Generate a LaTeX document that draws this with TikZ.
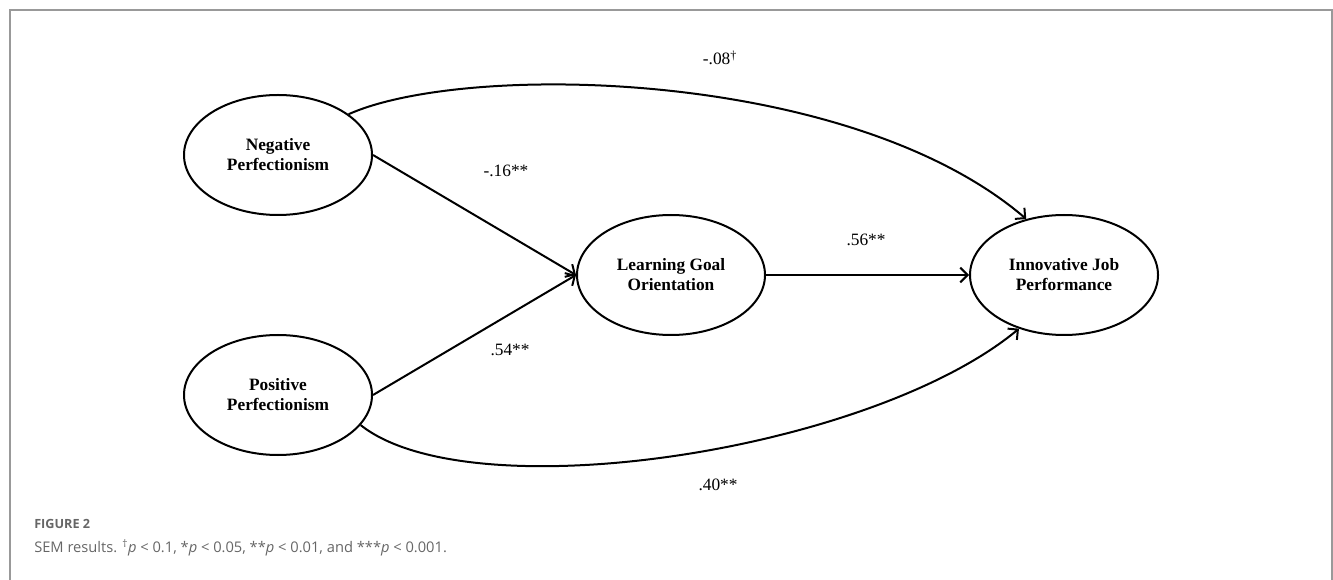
\documentclass[tikz,border=0pt]{standalone}
\usepackage{fontspec}
\setmainfont{Liberation Serif}
\newfontfamily\capfont{Open Sans}
\usetikzlibrary{arrows.meta,shapes.geometric}
\tikzset{
  latent/.style={ellipse, draw, line width=1.5pt, minimum width=141pt, minimum height=90pt, inner sep=0pt, align=center, font=\fontsize{13}{15}\selectfont\bfseries},
  arr/.style={line width=1.5pt, -{Straight Barb[length=5.5pt,width=11pt,line width=1.5pt]}},
  coef/.style={font=\fontsize{13}{15}\selectfont, inner sep=1pt},
  frame/.style={draw=black!40, line width=0.9pt}
}
\begin{document}
\begin{tikzpicture}[x=0.75pt,y=-0.75pt]
\useasboundingbox (0,0) rectangle (1333,580);
\draw[frame] (10,580) -- (10,10) -- (1332,10) -- (1332,580);

\node[latent] (neg) at (278,155) {Negative\\Perfectionism};
\node[latent] (pos) at (278,395) {Positive\\Perfectionism};
\node[latent] (lgo) at (671,275) {Learning Goal\\Orientation};
\node[latent] (ijp) at (1064,275) {Innovative Job\\Performance};

\draw[arr] (neg.east) -- (lgo.west);
\draw[arr] (pos.east) -- (lgo.west);
\draw[arr] (lgo.east) -- (ijp.west);
\draw[arr] (neg.30) .. controls (465,62) and (850,68) .. (ijp.124);
\draw[arr] (pos.-20) .. controls (470,512) and (870,452) .. (ijp.230);

\node[coef] (c1) at (720,58) {-.08\textsuperscript{†}};
\node[coef] (c2) at (506,171) {-.16**};
\node[coef] (c3) at (510,350) {.54**};
\node[coef] (c4) at (866,240) {.56**};
\node[coef] (c5) at (718,485) {.40**};

\node[anchor=west, inner sep=0pt, text=black!60, font=\capfont\fontsize{9.5}{11}\selectfont\bfseries] (fig) at (34,524) {FIGURE 2};
\node[anchor=west, inner sep=0pt, text=black!60, font=\capfont\fontsize{11}{13}\selectfont] (cap) at (34,548) {SEM results. \textsuperscript{†}\textit{p} < 0.1, *\textit{p} < 0.05, **\textit{p} < 0.01, and ***\textit{p} < 0.001.};
\end{tikzpicture}
\end{document}
